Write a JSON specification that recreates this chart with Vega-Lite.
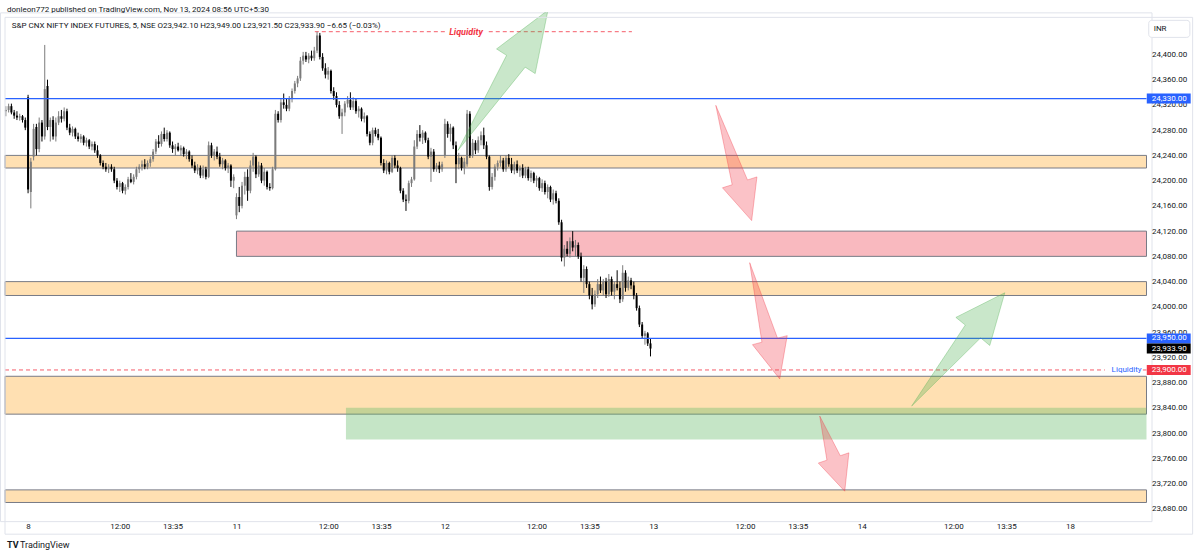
{
"$schema": "https://vega.github.io/schema/vega-lite/v6.json",
"width": 1151.5, "height": 508.76,
"autosize": "none",
"padding": {"left": 0, "top": 12.37, "right": 48.5, "bottom": 33.87},
"background": "#ffffff",
"config": {
 "view": {"stroke": "#e0e3eb", "strokeWidth": 1},
 "font": "Roboto", "text": {"font": "Roboto"},
 "axis": {"labelOverlap": false, "labelFlush": false, "ticks": false, "tickSize": 0, "domain": false, "grid": false, "labelFontSize": 8, "labelColor": "#131722", "title": null}
},
"resolve": {"scale": {"color": "independent", "fill": "independent"}},
"datasets": {
"candles": [
{"i":-8,"o":24310,"h":24318,"l":24302,"c":24312},{"i":-7,"o":24312,"h":24322,"l":24308,"c":24318},{"i":-6,"o":24318,"h":24322,"l":24305,"c":24308},{"i":-5,"o":24308,"h":24312,"l":24298,"c":24303},{"i":-4,"o":24303,"h":24310,"l":24296,"c":24300},{"i":-3,"o":24300,"h":24306,"l":24295,"c":24302},{"i":-2,"o":24302,"h":24304,"l":24292,"c":24296},{"i":-1,"o":24296,"h":24300,"l":24280,"c":24284},
{"i":0,"o":24332,"h":24336,"l":24180,"c":24186},{"i":1,"o":24182,"h":24236,"l":24156,"c":24230},{"i":2,"o":24238,"h":24290,"l":24232,"c":24282},{"i":3,"o":24285,"h":24290,"l":24240,"c":24250},{"i":4,"o":24250,"h":24300,"l":24245,"c":24292},{"i":5,"o":24292,"h":24296,"l":24262,"c":24270},{"i":6,"o":24270,"h":24415,"l":24265,"c":24345},{"i":7,"o":24350,"h":24360,"l":24280,"c":24285},{"i":8,"o":24285,"h":24300,"l":24262,"c":24296},{"i":9,"o":24296,"h":24302,"l":24265,"c":24270},
{"i":10,"o":24270,"h":24300,"l":24262,"c":24292},{"i":11,"o":24292,"h":24310,"l":24288,"c":24302},{"i":12,"o":24302,"h":24312,"l":24292,"c":24298},{"i":13,"o":24298,"h":24316,"l":24294,"c":24310},{"i":14,"o":24310,"h":24314,"l":24280,"c":24284},{"i":15,"o":24284,"h":24290,"l":24272,"c":24276},{"i":16,"o":24276,"h":24286,"l":24270,"c":24282},{"i":17,"o":24282,"h":24284,"l":24266,"c":24270},{"i":18,"o":24270,"h":24276,"l":24262,"c":24266},{"i":19,"o":24266,"h":24274,"l":24260,"c":24270},
{"i":20,"o":24270,"h":24272,"l":24256,"c":24260},{"i":21,"o":24260,"h":24268,"l":24254,"c":24264},{"i":22,"o":24264,"h":24266,"l":24250,"c":24254},{"i":23,"o":24254,"h":24262,"l":24248,"c":24258},{"i":24,"o":24258,"h":24262,"l":24244,"c":24248},{"i":25,"o":24248,"h":24256,"l":24236,"c":24240},{"i":26,"o":24240,"h":24242,"l":24224,"c":24228},{"i":27,"o":24228,"h":24232,"l":24218,"c":24222},{"i":28,"o":24222,"h":24228,"l":24214,"c":24218},{"i":29,"o":24218,"h":24226,"l":24212,"c":24222},
{"i":30,"o":24222,"h":24226,"l":24214,"c":24218},{"i":31,"o":24218,"h":24222,"l":24196,"c":24200},{"i":32,"o":24200,"h":24204,"l":24186,"c":24190},{"i":33,"o":24190,"h":24200,"l":24182,"c":24196},{"i":34,"o":24196,"h":24198,"l":24180,"c":24184},{"i":35,"o":24184,"h":24194,"l":24178,"c":24190},{"i":36,"o":24190,"h":24206,"l":24186,"c":24202},{"i":37,"o":24202,"h":24212,"l":24196,"c":24198},{"i":38,"o":24198,"h":24210,"l":24194,"c":24206},{"i":39,"o":24206,"h":24222,"l":24202,"c":24218},
{"i":40,"o":24218,"h":24226,"l":24212,"c":24222},{"i":41,"o":24222,"h":24232,"l":24216,"c":24226},{"i":42,"o":24226,"h":24234,"l":24218,"c":24222},{"i":43,"o":24222,"h":24232,"l":24218,"c":24228},{"i":44,"o":24228,"h":24238,"l":24222,"c":24234},{"i":45,"o":24234,"h":24250,"l":24230,"c":24246},{"i":46,"o":24246,"h":24266,"l":24242,"c":24262},{"i":47,"o":24262,"h":24272,"l":24252,"c":24258},{"i":48,"o":24258,"h":24278,"l":24254,"c":24274},{"i":49,"o":24274,"h":24284,"l":24262,"c":24266},
{"i":50,"o":24266,"h":24280,"l":24262,"c":24276},{"i":51,"o":24276,"h":24278,"l":24252,"c":24256},{"i":52,"o":24256,"h":24262,"l":24244,"c":24250},{"i":53,"o":24250,"h":24258,"l":24240,"c":24254},{"i":54,"o":24254,"h":24260,"l":24246,"c":24248},{"i":55,"o":24248,"h":24256,"l":24240,"c":24252},{"i":56,"o":24252,"h":24254,"l":24238,"c":24242},{"i":57,"o":24242,"h":24250,"l":24234,"c":24246},{"i":58,"o":24246,"h":24248,"l":24230,"c":24234},{"i":59,"o":24234,"h":24240,"l":24220,"c":24224},
{"i":60,"o":24224,"h":24230,"l":24212,"c":24216},{"i":61,"o":24216,"h":24226,"l":24210,"c":24220},{"i":62,"o":24220,"h":24224,"l":24204,"c":24208},{"i":63,"o":24208,"h":24224,"l":24204,"c":24218},{"i":64,"o":24218,"h":24222,"l":24202,"c":24206},{"i":65,"o":24206,"h":24262,"l":24204,"c":24256},{"i":66,"o":24256,"h":24260,"l":24236,"c":24240},{"i":67,"o":24240,"h":24250,"l":24232,"c":24246},{"i":68,"o":24246,"h":24254,"l":24234,"c":24238},{"i":69,"o":24238,"h":24244,"l":24222,"c":24226},
{"i":70,"o":24226,"h":24236,"l":24218,"c":24232},{"i":71,"o":24232,"h":24234,"l":24216,"c":24220},{"i":72,"o":24220,"h":24228,"l":24212,"c":24224},{"i":73,"o":24224,"h":24226,"l":24190,"c":24200},{"i":74,"o":24200,"h":24210,"l":24188,"c":24206},{"i":75,"o":24145,"h":24180,"l":24139,"c":24174},{"i":76,"o":24174,"h":24190,"l":24150,"c":24160},{"i":77,"o":24160,"h":24198,"l":24156,"c":24192},{"i":78,"o":24192,"h":24214,"l":24178,"c":24206},{"i":79,"o":24206,"h":24218,"l":24168,"c":24184},
{"i":80,"o":24184,"h":24232,"l":24180,"c":24224},{"i":81,"o":24224,"h":24244,"l":24214,"c":24238},{"i":82,"o":24238,"h":24240,"l":24204,"c":24210},{"i":83,"o":24210,"h":24230,"l":24206,"c":24224},{"i":84,"o":24224,"h":24228,"l":24196,"c":24200},{"i":85,"o":24200,"h":24220,"l":24192,"c":24214},{"i":86,"o":24214,"h":24216,"l":24186,"c":24190},{"i":87,"o":24190,"h":24196,"l":24184,"c":24188},{"i":88,"o":24188,"h":24222,"l":24186,"c":24218},{"i":89,"o":24218,"h":24312,"l":24216,"c":24306},
{"i":90,"o":24306,"h":24310,"l":24292,"c":24296},{"i":91,"o":24296,"h":24330,"l":24292,"c":24324},{"i":92,"o":24324,"h":24338,"l":24314,"c":24320},{"i":93,"o":24320,"h":24330,"l":24310,"c":24314},{"i":94,"o":24314,"h":24334,"l":24310,"c":24330},{"i":95,"o":24330,"h":24346,"l":24324,"c":24342},{"i":96,"o":24342,"h":24358,"l":24338,"c":24354},{"i":97,"o":24354,"h":24366,"l":24348,"c":24362},{"i":98,"o":24362,"h":24396,"l":24358,"c":24390},{"i":99,"o":24390,"h":24404,"l":24384,"c":24398},
{"i":100,"o":24398,"h":24404,"l":24388,"c":24392},{"i":101,"o":24392,"h":24402,"l":24386,"c":24398},{"i":102,"o":24398,"h":24406,"l":24390,"c":24394},{"i":103,"o":24394,"h":24412,"l":24390,"c":24406},{"i":104,"o":24406,"h":24436,"l":24402,"c":24430},{"i":105,"o":24430,"h":24434,"l":24392,"c":24396},{"i":106,"o":24396,"h":24402,"l":24374,"c":24378},{"i":107,"o":24378,"h":24386,"l":24362,"c":24368},{"i":108,"o":24368,"h":24380,"l":24360,"c":24374},{"i":109,"o":24374,"h":24376,"l":24338,"c":24342},
{"i":110,"o":24342,"h":24348,"l":24328,"c":24334},{"i":111,"o":24334,"h":24340,"l":24316,"c":24320},{"i":112,"o":24320,"h":24326,"l":24298,"c":24302},{"i":113,"o":24302,"h":24314,"l":24274,"c":24308},{"i":114,"o":24308,"h":24326,"l":24302,"c":24322},{"i":115,"o":24322,"h":24334,"l":24316,"c":24328},{"i":116,"o":24328,"h":24340,"l":24312,"c":24316},{"i":117,"o":24316,"h":24332,"l":24312,"c":24326},{"i":118,"o":24326,"h":24330,"l":24306,"c":24310},{"i":119,"o":24310,"h":24318,"l":24300,"c":24314},
{"i":120,"o":24314,"h":24316,"l":24294,"c":24298},{"i":121,"o":24298,"h":24308,"l":24292,"c":24302},{"i":122,"o":24302,"h":24304,"l":24270,"c":24274},{"i":123,"o":24274,"h":24278,"l":24256,"c":24260},{"i":124,"o":24260,"h":24284,"l":24256,"c":24280},{"i":125,"o":24280,"h":24284,"l":24270,"c":24274},{"i":126,"o":24274,"h":24282,"l":24264,"c":24268},{"i":127,"o":24268,"h":24270,"l":24224,"c":24228},{"i":128,"o":24228,"h":24234,"l":24212,"c":24216},{"i":129,"o":24216,"h":24232,"l":24210,"c":24228},
{"i":130,"o":24228,"h":24230,"l":24210,"c":24214},{"i":131,"o":24214,"h":24240,"l":24212,"c":24236},{"i":132,"o":24236,"h":24240,"l":24220,"c":24224},{"i":133,"o":24224,"h":24232,"l":24214,"c":24220},{"i":134,"o":24220,"h":24222,"l":24180,"c":24184},{"i":135,"o":24184,"h":24188,"l":24166,"c":24170},{"i":136,"o":24170,"h":24178,"l":24152,"c":24168},{"i":137,"o":24168,"h":24200,"l":24164,"c":24196},{"i":138,"o":24196,"h":24206,"l":24190,"c":24202},{"i":139,"o":24202,"h":24264,"l":24200,"c":24254},
{"i":140,"o":24254,"h":24280,"l":24250,"c":24274},{"i":141,"o":24274,"h":24288,"l":24262,"c":24268},{"i":142,"o":24268,"h":24280,"l":24258,"c":24276},{"i":143,"o":24276,"h":24278,"l":24260,"c":24264},{"i":144,"o":24264,"h":24268,"l":24234,"c":24238},{"i":145,"o":24238,"h":24252,"l":24198,"c":24246},{"i":146,"o":24246,"h":24250,"l":24214,"c":24218},{"i":147,"o":24218,"h":24228,"l":24214,"c":24224},{"i":148,"o":24224,"h":24230,"l":24212,"c":24218},{"i":149,"o":24218,"h":24230,"l":24214,"c":24226},
{"i":150,"o":24240,"h":24298,"l":24236,"c":24290},{"i":151,"o":24290,"h":24294,"l":24268,"c":24274},{"i":152,"o":24274,"h":24290,"l":24262,"c":24284},{"i":153,"o":24284,"h":24286,"l":24250,"c":24256},{"i":154,"o":24256,"h":24262,"l":24196,"c":24226},{"i":155,"o":24226,"h":24244,"l":24218,"c":24236},{"i":156,"o":24236,"h":24238,"l":24216,"c":24220},{"i":157,"o":24220,"h":24236,"l":24210,"c":24230},{"i":158,"o":24226,"h":24312,"l":24222,"c":24306},{"i":159,"o":24306,"h":24310,"l":24236,"c":24240},
{"i":160,"o":24240,"h":24266,"l":24236,"c":24260},{"i":161,"o":24260,"h":24264,"l":24242,"c":24248},{"i":162,"o":24248,"h":24270,"l":24244,"c":24264},{"i":163,"o":24264,"h":24278,"l":24256,"c":24272},{"i":164,"o":24272,"h":24284,"l":24250,"c":24256},{"i":165,"o":24256,"h":24262,"l":24234,"c":24238},{"i":166,"o":24238,"h":24240,"l":24184,"c":24190},{"i":167,"o":24190,"h":24212,"l":24186,"c":24206},{"i":168,"o":24206,"h":24226,"l":24200,"c":24222},{"i":169,"o":24222,"h":24232,"l":24216,"c":24228},
{"i":170,"o":24228,"h":24240,"l":24222,"c":24232},{"i":171,"o":24232,"h":24236,"l":24214,"c":24218},{"i":172,"o":24218,"h":24240,"l":24214,"c":24236},{"i":173,"o":24236,"h":24242,"l":24222,"c":24226},{"i":174,"o":24226,"h":24236,"l":24212,"c":24216},{"i":175,"o":24216,"h":24230,"l":24210,"c":24226},{"i":176,"o":24226,"h":24232,"l":24212,"c":24216},{"i":177,"o":24216,"h":24224,"l":24206,"c":24220},{"i":178,"o":24220,"h":24226,"l":24204,"c":24208},{"i":179,"o":24208,"h":24222,"l":24204,"c":24218},
{"i":180,"o":24218,"h":24222,"l":24200,"c":24204},{"i":181,"o":24204,"h":24216,"l":24198,"c":24212},{"i":182,"o":24212,"h":24214,"l":24196,"c":24200},{"i":183,"o":24200,"h":24208,"l":24190,"c":24204},{"i":184,"o":24204,"h":24206,"l":24184,"c":24188},{"i":185,"o":24188,"h":24202,"l":24182,"c":24196},{"i":186,"o":24196,"h":24200,"l":24178,"c":24182},{"i":187,"o":24182,"h":24194,"l":24172,"c":24190},{"i":188,"o":24190,"h":24192,"l":24166,"c":24170},{"i":189,"o":24170,"h":24186,"l":24162,"c":24180},
{"i":190,"o":24180,"h":24184,"l":24164,"c":24168},{"i":191,"o":24168,"h":24172,"l":24130,"c":24134},{"i":192,"o":24134,"h":24138,"l":24072,"c":24078},{"i":193,"o":24078,"h":24098,"l":24064,"c":24092},{"i":194,"o":24092,"h":24104,"l":24080,"c":24084},{"i":195,"o":24084,"h":24110,"l":24078,"c":24104},{"i":196,"o":24104,"h":24120,"l":24088,"c":24094},{"i":197,"o":24094,"h":24106,"l":24080,"c":24098},{"i":198,"o":24098,"h":24102,"l":24076,"c":24080},{"i":199,"o":24080,"h":24086,"l":24040,"c":24046},
{"i":200,"o":24046,"h":24066,"l":24022,"c":24060},{"i":201,"o":24060,"h":24064,"l":24030,"c":24036},{"i":202,"o":24036,"h":24040,"l":24012,"c":24018},{"i":203,"o":24018,"h":24030,"l":23996,"c":24004},{"i":204,"o":24004,"h":24026,"l":24000,"c":24020},{"i":205,"o":24020,"h":24044,"l":24014,"c":24036},{"i":206,"o":24036,"h":24048,"l":24022,"c":24026},{"i":207,"o":24026,"h":24044,"l":24018,"c":24040},{"i":208,"o":24040,"h":24046,"l":24014,"c":24020},{"i":209,"o":24020,"h":24052,"l":24016,"c":24044},
{"i":210,"o":24044,"h":24048,"l":24018,"c":24024},{"i":211,"o":24024,"h":24040,"l":24012,"c":24036},{"i":212,"o":24036,"h":24058,"l":24026,"c":24030},{"i":213,"o":24030,"h":24040,"l":24006,"c":24012},{"i":214,"o":24012,"h":24066,"l":24008,"c":24054},{"i":215,"o":24054,"h":24058,"l":24024,"c":24030},{"i":216,"o":24030,"h":24048,"l":24026,"c":24042},{"i":217,"o":24042,"h":24046,"l":24028,"c":24034},{"i":218,"o":24034,"h":24040,"l":24012,"c":24018},{"i":219,"o":24018,"h":24022,"l":23994,"c":23998},
{"i":220,"o":23998,"h":24002,"l":23968,"c":23972},{"i":221,"o":23972,"h":23976,"l":23950,"c":23954},{"i":222,"o":23954,"h":23962,"l":23940,"c":23958},{"i":223,"o":23958,"h":23960,"l":23938,"c":23942},{"i":224,"o":23942.1,"h":23949,"l":23921.5,"c":23933.9}
],
"zones": [
{"x1":-8.3,"x2":402.5,"p1":24220,"p2":24240,"z":"orange"},
{"x1":75,"x2":402.5,"p1":24080,"p2":24120,"z":"red"},
{"x1":-8.3,"x2":402.5,"p1":24018,"p2":24040,"z":"orange"},
{"x1":-8.3,"x2":402.5,"p1":23830,"p2":23890,"z":"orange"},
{"x1":-8.3,"x2":402.5,"p1":23690,"p2":23710,"z":"orange"},
{"x1":114.4,"x2":402.5,"p1":23790,"p2":23840,"z":"green"}
],
"hlines": [
{"x1":-8.3,"x2":402.5,"p":24330},
{"x1":-8.3,"x2":402.5,"p":23950}
],
"liq": [
{"x1":103.2,"x2":150.2,"p":24436},
{"x1":165.8,"x2":217.3,"p":24436},
{"x1":-8.3,"x2":387.5,"p":23900},
{"x1":401.2,"x2":402.5,"p":23900}
],
"arrows": [
{"a":"g1","t":"g","k":0,"i":154.7,"p":24247.8},{"a":"g1","t":"g","k":1,"i":178.9,"p":24379.8},{"a":"g1","t":"g","k":2,"i":182.5,"p":24369.6},{"a":"g1","t":"g","k":3,"i":187.1,"p":24470.1},{"a":"g1","t":"g","k":4,"i":168.6,"p":24408.7},{"a":"g1","t":"g","k":5,"i":172.2,"p":24398.5},
{"a":"g2","t":"g","k":0,"i":318.0,"p":23842.9},{"a":"g2","t":"g","k":1,"i":342.8,"p":23950.9},{"a":"g2","t":"g","k":2,"i":346.1,"p":23938.8},{"a":"g2","t":"g","k":3,"i":351.5,"p":24022.3},{"a":"g2","t":"g","k":4,"i":333.9,"p":23983.3},{"a":"g2","t":"g","k":5,"i":337.3,"p":23971.2},
{"a":"r1","t":"r","k":0,"i":247.5,"p":24319.3},{"a":"r1","t":"r","k":1,"i":258.9,"p":24201.1},{"a":"r1","t":"r","k":2,"i":262.3,"p":24205.9},{"a":"r1","t":"r","k":3,"i":260.4,"p":24136.7},{"a":"r1","t":"r","k":4,"i":249.9,"p":24188.7},{"a":"r1","t":"r","k":5,"i":253.4,"p":24193.5},
{"a":"r2","t":"r","k":0,"i":259.7,"p":24070.0},{"a":"r2","t":"r","k":1,"i":269.7,"p":23950.4},{"a":"r2","t":"r","k":2,"i":273.2,"p":23954.4},{"a":"r2","t":"r","k":3,"i":270.5,"p":23885.8},{"a":"r2","t":"r","k":4,"i":260.7,"p":23940.1},{"a":"r2","t":"r","k":5,"i":264.1,"p":23944.0},
{"a":"r3","t":"r","k":0,"i":284.9,"p":23827.0},{"a":"r3","t":"r","k":1,"i":292.3,"p":23764.1},{"a":"r3","t":"r","k":2,"i":295.4,"p":23768.7},{"a":"r3","t":"r","k":3,"i":293.9,"p":23707.9},{"a":"r3","t":"r","k":4,"i":284.4,"p":23752.5},{"a":"r3","t":"r","k":5,"i":287.5,"p":23757.1}
],
"tags": [
{"p":24330,"txt":"24,330.00","k":"blue"},
{"p":23950,"txt":"23,950.00","k":"blue"},
{"p":23933.9,"txt":"23,933.90","k":"last"},
{"p":23900,"txt":"23,900.00","k":"red"}
]
},
"layer": [
{"data":{"name":"candles"},
 "mark":{"type":"rule","strokeWidth":0},
 "encoding":{
  "x":{"field":"i","type":"quantitative","scale":{"domain":[-8.3,402.5],"nice":false,"zero":false},
   "axis":{"orient":"bottom","values":[0,33,52,75,108,127,150,183,202,225,258,277,300,333,352,375],"tickCount":60,
    "labelExpr":"datum.value % 75 == 0 ? ['8','11','12','13','14','18'][datum.value / 75] : (datum.value % 75 == 33 ? '12:00' : '13:35')",
    "labelPadding":1,"title":null,"labelOverlap":false}},
  "y":{"field":"l","type":"quantitative","scale":{"domain":[23668.4,24458.7],"nice":false,"zero":false},
   "axis":{"orient":"right","values":[23680,23720,23760,23800,23840,23880,23920,23960,24000,24040,24080,24120,24160,24200,24240,24280,24320,24360,24400],"tickCount":60,
    "format":",.2f","labelPadding":0,"title":null,"labelAlign":"left","labelBaseline":"middle","labelOverlap":false}},
  "y2":{"field":"h"}}},
{"data":{"name":"zones"},"transform":[{"filter":"datum.z != 'green'"}],
 "mark":{"type":"rect","stroke":"#787b86","strokeWidth":1},
 "encoding":{
  "x":{"field":"x1","type":"quantitative","scale":{"domain":[-8.3,402.5],"nice":false,"zero":false}},
  "x2":{"field":"x2"},
  "y":{"field":"p1","type":"quantitative","scale":{"domain":[23668.4,24458.7],"nice":false,"zero":false}},
  "y2":{"field":"p2"},
  "fill":{"field":"z","type":"nominal","scale":{"domain":["orange","red"],"range":["#ffe0b2","#f9b9bf"]},"legend":null}}},
{"data":{"name":"zones"},"transform":[{"filter":"datum.z == 'green'"}],
 "mark":{"type":"rect","fill":"#66bb6a","fillOpacity":0.38,"strokeWidth":0},
 "encoding":{
  "x":{"field":"x1","type":"quantitative","scale":{"domain":[-8.3,402.5],"nice":false,"zero":false}},
  "x2":{"field":"x2"},
  "y":{"field":"p1","type":"quantitative","scale":{"domain":[23668.4,24458.7],"nice":false,"zero":false}},
  "y2":{"field":"p2"}}},
{"data":{"name":"liq"},
 "mark":{"type":"rule","color":"#f23645","strokeWidth":1,"strokeDash":[4,3],"opacity":0.8},
 "encoding":{
  "x":{"field":"x1","type":"quantitative","scale":{"domain":[-8.3,402.5],"nice":false,"zero":false}},
  "x2":{"field":"x2"},
  "y":{"field":"p","type":"quantitative","scale":{"domain":[23668.4,24458.7],"nice":false,"zero":false}}}},
{"data":{"name":"candles"},
 "mark":{"type":"rule","strokeWidth":1},
 "encoding":{
  "x":{"field":"i","type":"quantitative","scale":{"domain":[-8.3,402.5],"nice":false,"zero":false}},
  "y":{"field":"l","type":"quantitative","scale":{"domain":[23668.4,24458.7],"nice":false,"zero":false}},
  "y2":{"field":"h"},
  "color":{"condition":{"test":"datum.c >= datum.o","value":"#7b7b7b"},"value":"#000000"}}},
{"data":{"name":"candles"},
 "mark":{"type":"bar","size":2},
 "encoding":{
  "x":{"field":"i","type":"quantitative","scale":{"domain":[-8.3,402.5],"nice":false,"zero":false}},
  "y":{"field":"o","type":"quantitative","scale":{"domain":[23668.4,24458.7],"nice":false,"zero":false}},
  "y2":{"field":"c"},
  "color":{"condition":{"test":"datum.c >= datum.o","value":"#7b7b7b"},"value":"#000000"}}},
{"data":{"name":"hlines"},
 "mark":{"type":"rule","stroke":"#2962ff","strokeWidth":1.2},
 "encoding":{
  "x":{"field":"x1","type":"quantitative","scale":{"domain":[-8.3,402.5],"nice":false,"zero":false}},
  "x2":{"field":"x2"},
  "y":{"field":"p","type":"quantitative","scale":{"domain":[23668.4,24458.7],"nice":false,"zero":false}}}},
{"data":{"name":"arrows"},
 "mark":{"type":"line","filled":true,"interpolate":"linear-closed","fillOpacity":0.3,"strokeWidth":0,"clip":true},
 "encoding":{
  "x":{"field":"i","type":"quantitative","scale":{"domain":[-8.3,402.5],"nice":false,"zero":false}},
  "y":{"field":"p","type":"quantitative","scale":{"domain":[23668.4,24458.7],"nice":false,"zero":false}},
  "detail":{"field":"a","type":"nominal"},
  "order":{"field":"k","type":"quantitative"},
  "color":{"field":"t","type":"nominal","scale":{"domain":["g","r"],"range":["#4caf50","#f23645"]},"legend":null}}},
{"data":{"name":"arrows"},
 "mark":{"type":"line","interpolate":"linear-closed","strokeWidth":1,"strokeOpacity":0.35,"clip":true},
 "encoding":{
  "x":{"field":"i","type":"quantitative","scale":{"domain":[-8.3,402.5],"nice":false,"zero":false}},
  "y":{"field":"p","type":"quantitative","scale":{"domain":[23668.4,24458.7],"nice":false,"zero":false}},
  "detail":{"field":"a","type":"nominal"},
  "order":{"field":"k","type":"quantitative"},
  "color":{"field":"t","type":"nominal","scale":{"domain":["g","r"],"range":["#4caf50","#f23645"]},"legend":null}}},
{"data":{"values":[{}]},
 "mark":{"type":"rect","fill":"none","stroke":"#e0e3eb","strokeWidth":1},
 "encoding":{
  "x":{"datum":-8.3,"type":"quantitative","scale":{"domain":[-8.3,402.5],"nice":false,"zero":false}},
  "x2":{"datum":419.1},
  "y":{"datum":23639.8,"type":"quantitative","scale":{"domain":[23668.4,24458.7],"nice":false,"zero":false}},
  "y2":{"datum":24458.7}}},
{"data":{"name":"tags"},
 "mark":{"type":"bar","orient":"horizontal","height":10},
 "encoding":{
  "x":{"datum":402.6,"type":"quantitative","scale":{"domain":[-8.3,402.5],"nice":false,"zero":false}},
  "x2":{"datum":418.4},
  "y":{"field":"p","type":"quantitative","scale":{"domain":[23668.4,24458.7],"nice":false,"zero":false}},
  "color":{"field":"k","type":"nominal","scale":{"domain":["blue","last","red"],"range":["#2962ff","#000000","#f23645"]},"legend":null}}},
{"data":{"name":"tags"},
 "mark":{"type":"text","align":"left","baseline":"middle","fontSize":8,"color":"#ffffff"},
 "encoding":{
  "x":{"datum":404.35,"type":"quantitative","scale":{"domain":[-8.3,402.5],"nice":false,"zero":false}},
  "y":{"field":"p","type":"quantitative","scale":{"domain":[23668.4,24458.7],"nice":false,"zero":false}},
  "text":{"field":"txt"}}},
{"data":{"values":[{}]},
 "mark":{"type":"rect","fill":"#ffffff","stroke":"#e0e3eb","strokeWidth":1,"cornerRadius":3},
 "encoding":{
  "x":{"datum":403.3,"type":"quantitative","scale":{"domain":[-8.3,402.5],"nice":false,"zero":false}},
  "x2":{"datum":418.1},
  "y":{"datum":24427,"type":"quantitative","scale":{"domain":[23668.4,24458.7],"nice":false,"zero":false}},
  "y2":{"datum":24454}}},
{"data":{"values":[{}]},
 "mark":{"type":"text","align":"left","baseline":"middle","fontSize":8,"color":"#131722"},
 "encoding":{
  "x":{"datum":405.1,"type":"quantitative","scale":{"domain":[-8.3,402.5],"nice":false,"zero":false}},
  "y":{"datum":24440,"type":"quantitative","scale":{"domain":[23668.4,24458.7],"nice":false,"zero":false}},
  "text":{"value":"INR"}}},
{"data":{"values":[{}]},
 "mark":{"type":"text","align":"left","baseline":"middle","fontSize":8,"color":"#131722"},
 "encoding":{
  "x":{"datum":-7.58,"type":"quantitative","scale":{"domain":[-8.3,402.5],"nice":false,"zero":false}},
  "y":{"datum":24469.8,"type":"quantitative","scale":{"domain":[23668.4,24458.7],"nice":false,"zero":false}},
  "text":{"value":"donleon772 published on TradingView.com, Nov 13, 2024 08:56 UTC+5:30"}}},
{"data":{"values":[{}]},
 "mark":{"type":"text","align":"left","baseline":"middle","fontSize":8,"color":"#131722"},
 "encoding":{
  "x":{"datum":-5.89,"type":"quantitative","scale":{"domain":[-8.3,402.5],"nice":false,"zero":false}},
  "y":{"datum":24444.4,"type":"quantitative","scale":{"domain":[23668.4,24458.7],"nice":false,"zero":false}},
  "text":{"value":"S&P CNX NIFTY INDEX FUTURES, 5, NSE  O23,942.10  H23,949.00  L23,921.50  C23,933.90  −6.65 (−0.03%)"}}},
{"data":{"values":[{}]},
 "mark":{"type":"text","align":"center","baseline":"middle","fontSize":9,"fontWeight":"bold","fontStyle":"italic","color":"#f23645"},
 "encoding":{
  "x":{"datum":157.6,"type":"quantitative","scale":{"domain":[-8.3,402.5],"nice":false,"zero":false}},
  "y":{"datum":24436,"type":"quantitative","scale":{"domain":[23668.4,24458.7],"nice":false,"zero":false}},
  "text":{"value":"Liquidity"}}},
{"data":{"values":[{}]},
 "mark":{"type":"text","align":"right","baseline":"middle","fontSize":8,"color":"#2962ff"},
 "encoding":{
  "x":{"datum":400.75,"type":"quantitative","scale":{"domain":[-8.3,402.5],"nice":false,"zero":false}},
  "y":{"datum":23900,"type":"quantitative","scale":{"domain":[23668.4,24458.7],"nice":false,"zero":false}},
  "text":{"value":"Liquidity"}}},
{"data":{"values":[{}]},
 "mark":{"type":"text","align":"left","baseline":"middle","fontSize":9,"fontWeight":"bold","color":"#131722"},
 "encoding":{
  "x":{"datum":-7.58,"type":"quantitative","scale":{"domain":[-8.3,402.5],"nice":false,"zero":false}},
  "y":{"datum":23622.3,"type":"quantitative","scale":{"domain":[23668.4,24458.7],"nice":false,"zero":false}},
  "text":{"value":"TV"}}},
{"data":{"values":[{}]},
 "mark":{"type":"text","align":"left","baseline":"middle","fontSize":9,"color":"#131722"},
 "encoding":{
  "x":{"datum":-2.9,"type":"quantitative","scale":{"domain":[-8.3,402.5],"nice":false,"zero":false}},
  "y":{"datum":23622.3,"type":"quantitative","scale":{"domain":[23668.4,24458.7],"nice":false,"zero":false}},
  "text":{"value":"TradingView"}}}
]
}
